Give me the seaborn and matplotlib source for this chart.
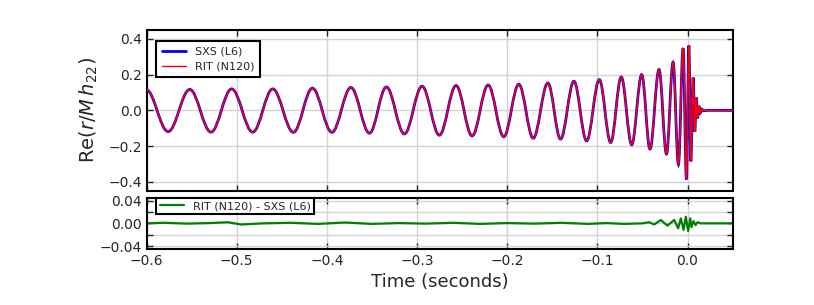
#!/usr/bin/env python3

"""Waveform comparison: SXS vs RIT, with residual panel."""

import matplotlib

matplotlib.use("Agg")
import matplotlib.pyplot as plt
import pandas as pd
import seaborn as sns
from matplotlib.lines import Line2D
from matplotlib.patches import PathPatch
from matplotlib.path import Path

# extrema of Re(r/M h22) (time in s, value)
peak_t = [-0.6005, -0.576, -0.552, -0.5285, -0.5056, -0.4822, -0.46, -0.4371,
          -0.416, -0.3944, -0.3733, -0.3527, -0.334, -0.314, -0.2944, -0.2752,
          -0.2567, -0.2389, -0.2211, -0.2038, -0.1871, -0.1711, -0.1549, -0.1408,
          -0.126, -0.1119, -0.0978, -0.0852, -0.0735, -0.0619, -0.0508, -0.0416,
          -0.0316, -0.0233, -0.016, -0.0101, -0.0049, -0.0012, 0.0015, 0.0037,
          0.0063, 0.0081, 0.0096, 0.0111, 0.0126, 0.0141, 0.0157, 0.0173, 0.022, 0.06]
sxs_h = [0.117, -0.119, 0.117, -0.122, 0.12, -0.122, 0.12, -0.123, 0.124, -0.123,
         0.128, -0.128, 0.131, -0.132, 0.135, -0.139, 0.139, -0.143, 0.142, -0.148,
         0.146, -0.156, 0.153, -0.161, 0.163, -0.171, 0.172, -0.18, 0.187, -0.193,
         0.2, -0.217, 0.229, -0.245, 0.27, -0.304, 0.348, -0.387, 0.363, -0.285,
         0.183, -0.12, 0.072, -0.045, 0.025, -0.014, 0.007, -0.003, 0.0, 0.0]
rit_h = [0.117, -0.119, 0.117, -0.122, 0.12, -0.122, 0.12, -0.123, 0.124, -0.123,
         0.128, -0.128, 0.131, -0.132, 0.135, -0.139, 0.139, -0.143, 0.142, -0.148,
         0.146, -0.156, 0.153, -0.161, 0.163, -0.171, 0.172, -0.18, 0.187, -0.193,
         0.2, -0.217, 0.229, -0.245, 0.27, -0.306, 0.35, -0.385, 0.366, -0.287,
         0.185, -0.121, 0.073, -0.045, 0.025, -0.014, 0.007, -0.003, 0.0, 0.0]

# residual RIT - SXS
diff_t = [-0.6, -0.58, -0.555, -0.53, -0.51, -0.495, -0.47, -0.44, -0.41, -0.38,
          -0.35, -0.32, -0.29, -0.26, -0.23, -0.2, -0.17, -0.14, -0.11, -0.09,
          -0.07, -0.05, -0.0426, -0.037, -0.0297, -0.0222, -0.0148, -0.0104,
          -0.0074, -0.0044, -0.0019, 0.0007, 0.003, 0.0044, 0.0067, 0.0089,
          0.0111, 0.0148, 0.05]
diff_h = [0.0, 0.001, -0.0005, 0.0005, 0.002, -0.002, 0.0, 0.001, -0.001, 0.0015,
          -0.001, 0.0005, -0.0005, 0.001, -0.001, 0.0005, -0.0005, 0.001, -0.001,
          0.0005, -0.001, 0.0, 0.002, -0.002, 0.0058, -0.004, 0.006, -0.0087,
          0.0087, -0.0116, 0.0116, -0.0134, 0.0087, -0.0064, 0.004, -0.003,
          0.002, 0.0, 0.0]

sns.set_theme(
    style="ticks",
    rc={
        "font.family": ["DejaVu Sans"],
        "xtick.direction": "in",
        "ytick.direction": "in",
        "xtick.top": True,
        "ytick.right": True,
        "xtick.major.size": 4,
        "ytick.major.size": 4,
        "xtick.major.width": 1.0,
        "ytick.major.width": 1.0,
        "xtick.labelsize": 10,
        "ytick.labelsize": 10,
        "axes.linewidth": 1.5,
        "axes.edgecolor": "black",
        "axes.grid": True,
        "grid.color": "#d3d3d3",
        "grid.linewidth": 1.0,
        "legend.fontsize": 8,
    },
)


def wave_path(t, v, k=0.364):
    """Smooth path through the extrema with flat tangents at each one."""
    verts = [(t[0], v[0])]
    codes = [Path.MOVETO]
    for i in range(len(t) - 1):
        dt = t[i + 1] - t[i]
        verts += [(t[i] + k * dt, v[i]), (t[i + 1] - k * dt, v[i + 1]), (t[i + 1], v[i + 1])]
        codes += [Path.CURVE4] * 3
    return Path(verts, codes)


def main():
    fig = plt.figure(figsize=(8.14, 3.05), dpi=100)
    ax = fig.add_axes([0.180, 0.3748, 0.720, 0.5268])
    ax_d = fig.add_axes([0.180, 0.1836, 0.720, 0.1682], sharex=ax)

    ax.add_patch(PathPatch(wave_path(peak_t, sxs_h), fill=False, edgecolor="blue", lw=2.0, zorder=3))
    ax.add_patch(PathPatch(wave_path(peak_t, rit_h), fill=False, edgecolor="red", lw=1.1, zorder=4))
    ax.set_xlim(-0.6, 0.05)
    ax.set_ylim(-0.45, 0.45)
    ax.set_yticks([-0.4, -0.2, 0.0, 0.2, 0.4])
    ax.set_xticks([-0.6, -0.5, -0.4, -0.3, -0.2, -0.1, 0.0])
    ax.tick_params(labelbottom=False)
    ax.set_ylabel(r"Re$(r/M\,h_{22})$", fontsize=14, labelpad=6)
    handles = [Line2D([], [], color="blue", lw=2.0), Line2D([], [], color="red", lw=1.0)]
    leg = ax.legend(handles, ["SXS (L6)", "RIT (N120)"], loc="upper left",
                    bbox_to_anchor=(0.017, 0.93), borderaxespad=0,
                    fancybox=False, framealpha=1, edgecolor="black",
                    handlelength=2.2, borderpad=0.5, labelspacing=0.45)
    leg.get_frame().set_linewidth(1.5)

    df = pd.DataFrame({"t": diff_t, "d": diff_h})
    sns.lineplot(data=df, x="t", y="d", ax=ax_d, color="green", lw=1.6,
                 label="RIT (N120) - SXS (L6)")
    ax_d.set_ylim(-0.045, 0.045)
    ax_d.set_yticks([-0.04, -0.02, 0.0, 0.02, 0.04])
    ax_d.set_yticklabels(["\u22120.04", "", "0.00", "", "0.04"])
    ax_d.set_xlabel("Time (seconds)", fontsize=13)
    ax_d.set_ylabel("")
    leg = ax_d.legend(loc="upper left", bbox_to_anchor=(0.017, 1.0), borderaxespad=0,
                      fancybox=False, framealpha=1, edgecolor="black",
                      handlelength=2.2, borderpad=0.3)
    leg.get_frame().set_linewidth(1.5)

    fig.savefig("out.png", dpi=100)
    plt.close(fig)


if __name__ == "__main__":
    main()
